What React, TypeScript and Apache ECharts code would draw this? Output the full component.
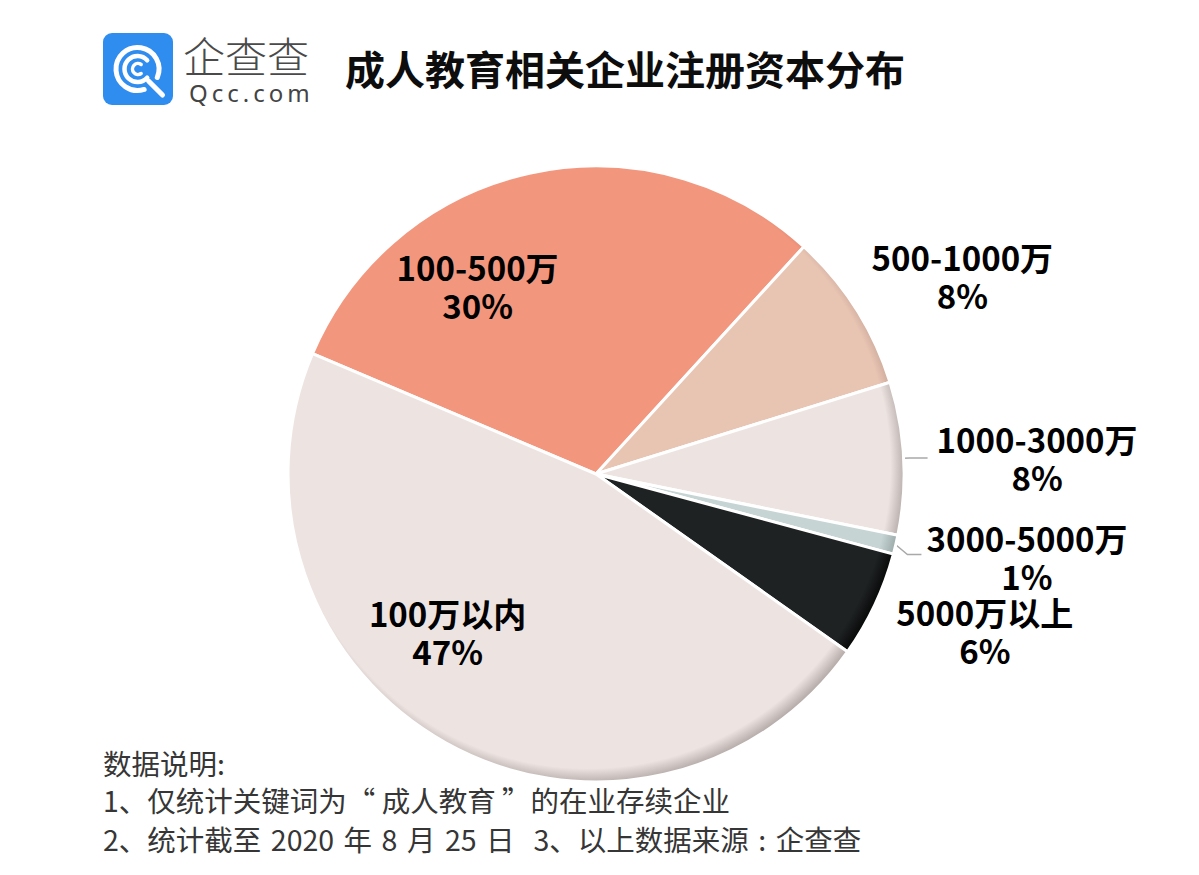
import React, { useEffect, useRef } from 'react';
import * as echarts from 'echarts';

// ---- data ----
const categories = ['100-500万', '500-1000万', '1000-3000万', '3000-5000万', '5000万以上', '100万以内'];
const shares = [30.4, 8.4, 8.0, 1.0, 5.6, 46.6];
const titleText = '成人教育相关企业注册资本分布';
const brandName = '企查查';
const brandSite = 'Q\u2009c\u2009c\u2009.\u2009c\u2009o\u2009m';
const SP = '\u2004';
const noteLines = [
  '数据说明:',
  '1、仅统计关键词为“ 成人教育 ”的在业存续企业',
  `2、统计截至${SP}2020${SP}年${SP}8${SP}月${SP}25${SP}日${SP}${SP}3、以上数据来源${SP}:${SP}企查查`,
];

// ---- styles ----
const sliceColors = ['#F3967E', '#E8C4B3', '#EDE4E1', '#C6D4D4', '#1F2223', '#EDE4E1'];
const rimColors = ['#C47260', '#BE9E8F', '#ADA4A1', '#95A3A3', '#050606', '#ADA4A1'];
const insideLabel = [true, false, false, false, false, true];
const showLine = [false, false, true, true, false, false];
const lineFollowsLabel = [false, false, false, true, false, false];
const lineLen: [number, number][] = [[0, 0], [15, 15], [6, 18], [12, 10], [15, 15], [0, 0]];
const labelShift: ([number, number] | null)[] = [[-85, -37], [-17, -27], [0, -3], [4, 7], [-12, 17], [-72, 18]];
const noteY = [762, 799, 838];

const CJK = '"Noto Sans CJK SC", "Noto Sans", sans-serif';
const CX = 596;
const CY = 474;
const R = 308;

const deg = (d: number) => (d * Math.PI) / 180;

export default function App() {
  const ref = useRef<HTMLDivElement>(null);
  useEffect(() => {
    if (!ref.current) return;
    const chart = echarts.init(ref.current, undefined, { renderer: 'svg' });

    const data = categories.map((name, i) => ({
      name,
      value: shares[i],
      itemStyle: {
        color: {
          type: 'radial',
          x: CX - 8,
          y: CY - 8,
          r: R + 12,
          global: true,
          colorStops: [
            { offset: 0, color: sliceColors[i] },
            { offset: 0.945, color: sliceColors[i] },
            { offset: 1, color: rimColors[i] },
          ],
        },
      },
      label: {
        position: insideLabel[i] ? 'inside' : 'outside',
        distanceToLabelLine: i === 2 ? 9 : 5,
      },
      labelLine: {
        show: showLine[i],
        length: lineLen[i][0],
        length2: lineLen[i][1],
      },
    }));

    const logoColor = '#2E8DEF';
    const lx = 137.5;
    const ly = 69;

    chart.setOption({
      animation: false,
      backgroundColor: '#ffffff',
      series: [
        {
          type: 'pie',
          center: [CX, CY],
          radius: R,
          startAngle: 157,
          clockwise: true,
          avoidLabelOverlap: false,
          emphasis: { disabled: true },
          itemStyle: { borderColor: '#ffffff', borderWidth: 3 },
          label: {
            formatter: (p: any) => `{c|${p.name}}\n{c|${Math.round(p.value)}%}`,
            rich: {
              c: {
                align: 'center',
                fontFamily: CJK,
                fontWeight: 'bold',
                fontSize: 33,
                lineHeight: 38,
                color: '#000000',
              },
            },
          },
          labelLine: { lineStyle: { color: '#A9A9A9', width: 1.5 } },
          labelLayout: (params: any) => {
            const i = params.dataIndex;
            const s = labelShift[i];
            if (!s) return {};
            const r = params.labelRect;
            const out: any = { x: r.x + s[0], y: r.y + s[1], align: 'left', verticalAlign: 'top' };
            const p = params.labelLinePoints;
            if (showLine[i] && p && p.length >= 3) {
              out.labelLinePoints = lineFollowsLabel[i]
                ? [
                    [p[0][0], p[0][1]],
                    [p[1][0], p[1][1] + s[1]],
                    [p[2][0] + s[0], p[2][1] + s[1]],
                  ]
                : p.map((q: number[]) => [q[0], q[1]]);
            }
            return out;
          },
          data,
        },
      ],
      graphic: [
        // logo
        {
          type: 'rect',
          shape: { x: 103, y: 33, width: 70, height: 72, r: 9 },
          style: { fill: logoColor },
        },
        {
          type: 'arc',
          shape: { cx: lx, cy: ly, r: 21.5, startAngle: deg(72), endAngle: deg(383), clockwise: true },
          style: { stroke: '#ffffff', lineWidth: 5, fill: 'none', lineCap: 'round' },
        },
        {
          type: 'arc',
          shape: { cx: lx, cy: ly, r: 13, startAngle: deg(42), endAngle: deg(318), clockwise: true },
          style: { stroke: '#ffffff', lineWidth: 4.5, fill: 'none', lineCap: 'round' },
        },
        {
          type: 'arc',
          shape: { cx: lx + 0.5, cy: ly, r: 5.5, startAngle: deg(55), endAngle: deg(305), clockwise: true },
          style: { stroke: '#ffffff', lineWidth: 3.5, fill: 'none', lineCap: 'round' },
        },
        {
          type: 'line',
          shape: { x1: lx + 11, y1: ly + 12, x2: lx + 25, y2: ly + 26 },
          style: { stroke: '#ffffff', lineWidth: 5, lineCap: 'round' },
        },
        {
          type: 'text',
          x: 183,
          y: 54,
          style: {
            text: brandName,
            fontFamily: CJK,
            fontWeight: 300,
            fontSize: 42,
            lineHeight: 40,
            fill: '#4a4a4a',
            verticalAlign: 'middle',
            align: 'left',
          },
        },
        {
          type: 'text',
          x: 189,
          y: 92,
          style: {
            text: brandSite,
            fontFamily: '"Noto Sans", sans-serif',
            fontSize: 24,
            lineHeight: 22,
            fill: '#444444',
            verticalAlign: 'middle',
            align: 'left',
          },
        },
        // title
        {
          type: 'text',
          x: 345,
          y: 68,
          style: {
            text: titleText,
            fontFamily: CJK,
            fontWeight: 'bold',
            fontSize: 40,
            fill: '#0d0d0d',
            verticalAlign: 'middle',
            align: 'left',
          },
        },
        // notes
        ...noteLines.map((t, i) => ({
          type: 'text',
          x: 103,
          y: noteY[i],
          style: {
            text: t,
            fontFamily: CJK,
            fontSize: 28.5,
            lineHeight: 34,
            fill: '#363636',
            verticalAlign: 'middle',
            align: 'left',
          },
        })),
      ],
    });

    return () => {
      chart.dispose();
    };
  }, []);

  return (
    <div
      ref={ref}
      style={{ position: 'absolute', left: 0, top: 0, width: 1199, height: 875, background: '#fff' }}
    />
  );
}
